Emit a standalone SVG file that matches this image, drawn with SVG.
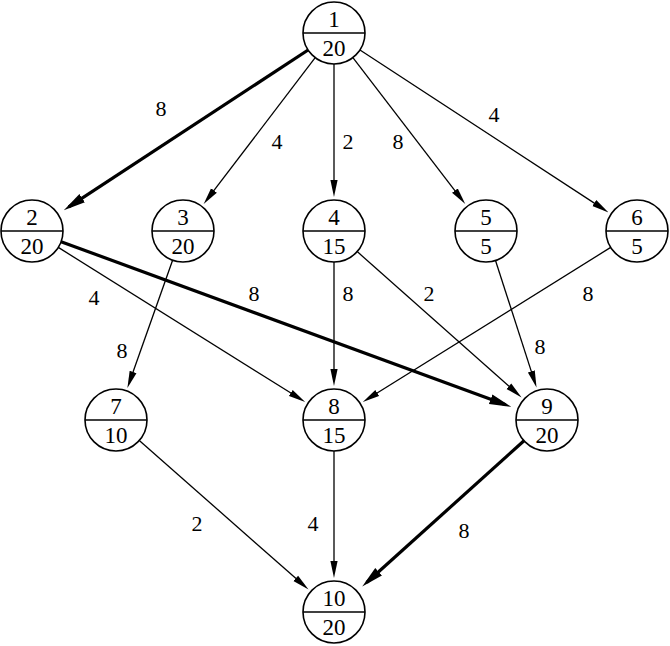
<svg xmlns="http://www.w3.org/2000/svg" width="670" height="646" viewBox="0 0 670 646">
<style>
.node circle{fill:#fff;stroke:#000;stroke-width:1.6}
.node line{stroke:#000;stroke-width:1.6}
.node text{font-family:"Liberation Serif","Times New Roman",serif;font-size:23px;text-anchor:middle;fill:#000}
.e{stroke:#000;stroke-width:1.3;fill:none;marker-end:url(#a)}
.t{stroke:#000;stroke-width:3.2;fill:none;marker-end:url(#A)}
.lbl{font-family:"Liberation Serif","Times New Roman",serif;font-size:22px;text-anchor:middle;fill:#000}
</style>
<defs>
<marker id="a" markerUnits="userSpaceOnUse" viewBox="0 -5 17 10" markerWidth="17" markerHeight="10" refX="11" refY="0" orient="auto"><path d="M0,-3.6 L17,0 L0,3.6 Z" fill="#000"/></marker>
<marker id="A" markerUnits="userSpaceOnUse" viewBox="0 -6 22 12" markerWidth="22" markerHeight="12" refX="16" refY="0" orient="auto"><path d="M0,-5 L22,0 L0,5 Z" fill="#000"/></marker>
</defs>
<g id="edges">
<line class="t" x1="308.1" y1="50" x2="68.8" y2="206.9"/>
<line class="e" x1="315.2" y1="57.7" x2="207.3" y2="199.2"/>
<line class="e" x1="334" y1="64" x2="334" y2="191"/>
<line class="e" x1="352.9" y1="57.6" x2="461.6" y2="199.3"/>
<line class="e" x1="360" y1="50" x2="603.5" y2="209.1"/>
<line class="e" x1="58.3" y1="247.4" x2="300.1" y2="398.8"/>
<line class="t" x1="61.1" y1="241.7" x2="505.7" y2="404.8"/>
<line class="e" x1="172.6" y1="260.2" x2="129.4" y2="382.3"/>
<line class="e" x1="334" y1="262" x2="334" y2="380"/>
<line class="e" x1="357.2" y1="251.6" x2="517.1" y2="393.5"/>
<line class="e" x1="495.5" y1="260.5" x2="534.7" y2="381.9"/>
<line class="e" x1="610.7" y1="247.4" x2="367.9" y2="398.8"/>
<line class="e" x1="139.3" y1="440.5" x2="304" y2="585.6"/>
<line class="e" x1="334" y1="451" x2="334" y2="572"/>
<line class="t" x1="524" y1="440.8" x2="366.7" y2="582.5"/>
</g>
<g id="edge-labels">
<text class="lbl" x="161" y="116">8</text>
<text class="lbl" x="277" y="149">4</text>
<text class="lbl" x="348" y="149">2</text>
<text class="lbl" x="398" y="149">8</text>
<text class="lbl" x="494" y="122">4</text>
<text class="lbl" x="94" y="305">4</text>
<text class="lbl" x="254" y="301">8</text>
<text class="lbl" x="122" y="358">8</text>
<text class="lbl" x="348" y="301">8</text>
<text class="lbl" x="429" y="301">2</text>
<text class="lbl" x="540" y="354">8</text>
<text class="lbl" x="588" y="301">8</text>
<text class="lbl" x="197" y="531">2</text>
<text class="lbl" x="313" y="531">4</text>
<text class="lbl" x="464" y="538">8</text>
</g>
<g id="n1" class="node"><circle cx="334" cy="33" r="31"/><line x1="303" y1="33" x2="365" y2="33"/><text x="334" y="27">1</text><text x="334" y="56">20</text></g>
<g id="n2" class="node"><circle cx="32" cy="231" r="31"/><line x1="1" y1="231" x2="63" y2="231"/><text x="32" y="225">2</text><text x="32" y="254">20</text></g>
<g id="n3" class="node"><circle cx="183" cy="231" r="31"/><line x1="152" y1="231" x2="214" y2="231"/><text x="183" y="225">3</text><text x="183" y="254">20</text></g>
<g id="n4" class="node"><circle cx="334" cy="231" r="31"/><line x1="303" y1="231" x2="365" y2="231"/><text x="334" y="225">4</text><text x="334" y="254">15</text></g>
<g id="n5" class="node"><circle cx="486" cy="231" r="31"/><line x1="455" y1="231" x2="517" y2="231"/><text x="486" y="225">5</text><text x="486" y="254">5</text></g>
<g id="n6" class="node"><circle cx="637" cy="231" r="31"/><line x1="606" y1="231" x2="668" y2="231"/><text x="637" y="225">6</text><text x="637" y="254">5</text></g>
<g id="n7" class="node"><circle cx="116" cy="420" r="31"/><line x1="85" y1="420" x2="147" y2="420"/><text x="116" y="414">7</text><text x="116" y="443">10</text></g>
<g id="n8" class="node"><circle cx="334" cy="420" r="31"/><line x1="303" y1="420" x2="365" y2="420"/><text x="334" y="414">8</text><text x="334" y="443">15</text></g>
<g id="n9" class="node"><circle cx="547" cy="420" r="31"/><line x1="516" y1="420" x2="578" y2="420"/><text x="547" y="414">9</text><text x="547" y="443">20</text></g>
<g id="n10" class="node"><circle cx="334" cy="612" r="31"/><line x1="303" y1="612" x2="365" y2="612"/><text x="334" y="606">10</text><text x="334" y="635">20</text></g>
</svg>
